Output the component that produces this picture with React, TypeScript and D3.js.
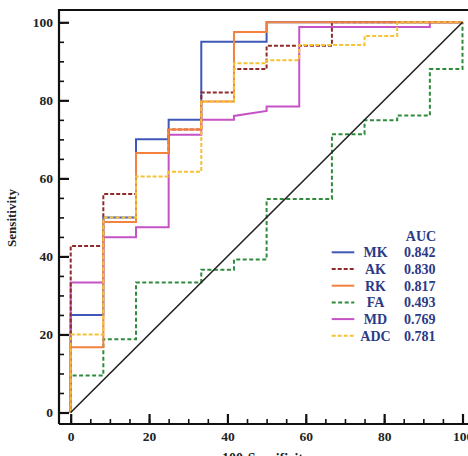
import React, { useEffect, useRef } from "react";
import * as d3 from "d3";

type Pt = [number, number];

// ROC curves: [100 - specificity, sensitivity] vertices
const mkPts: Pt[] = [[0, 0], [0, 25], [8.33, 25], [8.33, 50], [16.67, 50], [16.67, 70], [25, 70], [25, 75], [33.33, 75], [33.33, 95], [50, 95], [50, 100], [100, 100]];
const akPts: Pt[] = [[0, 0], [0, 42.7], [8.33, 42.7], [8.33, 56], [16.67, 56], [16.67, 66.5], [25, 66.5], [25, 72.5], [33.33, 72.5], [33.33, 82], [41.67, 82], [41.67, 88], [50, 88], [50, 94], [66.67, 94], [66.67, 100], [100, 100]];
const rkPts: Pt[] = [[0, 0], [0, 16.7], [8.33, 16.7], [8.33, 48.8], [16.67, 48.8], [16.67, 66.5], [25, 66.5], [25, 72.5], [33.33, 72.5], [33.33, 79.7], [41.67, 79.7], [41.67, 97.5], [50, 97.5], [50, 100], [100, 100]];
const faPts: Pt[] = [[0, 0], [0, 9.5], [8.33, 9.5], [8.33, 18.8], [16.67, 18.8], [16.67, 33.3], [33.33, 33.3], [33.33, 36.6], [41.67, 36.6], [41.67, 39.2], [50, 39.2], [50, 54.7], [66.67, 54.7], [66.67, 71.3], [75, 71.3], [75, 74.9], [83.33, 74.9], [83.33, 76.1], [91.67, 76.1], [91.67, 88], [100, 88], [100, 100]];
const mdPts: Pt[] = [[0, 0], [0, 33.3], [8.33, 33.3], [8.33, 44.9], [16.67, 44.9], [16.67, 47.5], [25, 47.5], [25, 71.2], [33.33, 71.2], [33.33, 75], [41.67, 75], [41.67, 76], [50, 77.3], [50, 78.4], [58.33, 78.4], [58.33, 98.8], [91.67, 98.8], [91.67, 100], [100, 100]];
const adcPts: Pt[] = [[0, 0], [0, 20], [8.33, 20], [8.33, 50], [16.67, 50], [16.67, 60.5], [25, 60.5], [25, 61.7], [33.33, 61.7], [33.33, 79.7], [41.67, 79.7], [41.67, 89.5], [50, 89.5], [50, 90.3], [58.33, 90.3], [58.33, 94.2], [75, 94.2], [75, 96.5], [83.33, 96.5], [83.33, 100], [100, 100]];

const names = ["MK", "AK", "RK", "FA", "MD", "ADC"];
const aucs = ["0.842", "0.830", "0.817", "0.493", "0.769", "0.781"];
const colors = ["#3f58b8", "#8e2a2a", "#f3823e", "#2f8a3c", "#c653c6", "#f5c135"];
const dashes = [null, "4,2", null, "4,2.5", null, "4,2"];
const curves = [mkPts, akPts, rkPts, faPts, mdPts, adcPts];
// drawing order, last on top
const drawOrder = [0, 4, 3, 1, 2, 5];

const W = 468;
const H = 456;
const font = "'Liberation Serif', 'Times New Roman', serif";

const App = () => {
  const svgRef = useRef<SVGSVGElement | null>(null);

  useEffect(() => {
    document.body.style.margin = "0";
    const svg = d3.select(svgRef.current);
    svg.selectAll("*").remove();

    const frame = { left: 59, top: 10, right: 470, bottom: 424 };
    const x = d3.scaleLinear().domain([0, 100]).range([70.7, 462.5]);
    const y = d3.scaleLinear().domain([0, 100]).range([412.5, 22.3]);

    svg.append("rect").attr("width", W).attr("height", H).attr("fill", "#fff");

    // minor ticks every 5
    svg
      .append("g")
      .attr("transform", `translate(${frame.left},0)`)
      .call(d3.axisLeft(y).tickValues(d3.range(0, 101, 5)).tickSizeInner(-5).tickSizeOuter(0).tickFormat(() => ""))
      .call((g) => g.select(".domain").remove())
      .selectAll("line")
      .attr("stroke", "#111")
      .attr("stroke-width", 1.6);
    svg
      .append("g")
      .attr("transform", `translate(0,${frame.bottom})`)
      .call(d3.axisBottom(x).tickValues(d3.range(0, 101, 5)).tickSizeInner(-5).tickSizeOuter(0).tickFormat(() => ""))
      .call((g) => g.select(".domain").remove())
      .selectAll("line")
      .attr("stroke", "#111")
      .attr("stroke-width", 1.6);

    // major ticks with labels
    const yAxis = svg
      .append("g")
      .attr("transform", `translate(${frame.left},0)`)
      .call(d3.axisLeft(y).tickValues([0, 20, 40, 60, 80, 100]).tickSizeInner(-10).tickSizeOuter(0).tickPadding(6));
    const xAxis = svg
      .append("g")
      .attr("transform", `translate(0,${frame.bottom})`)
      .call(d3.axisBottom(x).tickValues([0, 20, 40, 60, 80, 100]).tickSizeInner(-10).tickSizeOuter(0).tickPadding(7));
    [yAxis, xAxis].forEach((g) => {
      g.select(".domain").remove();
      g.selectAll("line").attr("stroke", "#111").attr("stroke-width", 2.2);
      g.selectAll("text")
        .attr("font-family", font)
        .attr("font-weight", "bold")
        .attr("font-size", 13.5)
        .attr("fill", "#222");
    });

    // frame lines
    svg
      .append("path")
      .attr("d", `M${frame.left},${frame.bottom}V${frame.top}H${frame.right}M${frame.left},${frame.bottom}H${frame.right}`)
      .attr("fill", "none")
      .attr("stroke", "#111")
      .attr("stroke-width", 2.2);

    const line = d3
      .line<Pt>()
      .x((d) => x(d[0]))
      .y((d) => y(d[1]));

    drawOrder.forEach((i) => {
      svg
        .append("path")
        .datum(curves[i])
        .attr("d", line)
        .attr("fill", "none")
        .attr("stroke", colors[i])
        .attr("stroke-width", 2)
        .attr("stroke-dasharray", dashes[i]);
    });

    // reference diagonal
    svg
      .append("path")
      .datum([[0, 0], [100, 100]] as Pt[])
      .attr("d", line)
      .attr("stroke", "#222")
      .attr("stroke-width", 1.6);

    // legend
    const lg = svg
      .append("g")
      .attr("font-family", font)
      .attr("font-weight", "bold")
      .attr("font-size", 14)
      .attr("fill", "#2b3a86");
    lg.append("text").attr("x", 421).attr("y", 235.7).attr("dy", "0.35em").attr("text-anchor", "middle").text("AUC");
    names.forEach((n, i) => {
      const cy = 252.3 + i * 16.7;
      lg.append("line")
        .attr("x1", 331.7)
        .attr("x2", 354.3)
        .attr("y1", cy)
        .attr("y2", cy)
        .attr("stroke", colors[i])
        .attr("stroke-width", 2)
        .attr("stroke-dasharray", dashes[i]);
      lg.append("text").attr("x", 375.5).attr("y", cy).attr("dy", "0.35em").attr("text-anchor", "middle").text(n);
      lg.append("text").attr("x", 404).attr("y", cy).attr("dy", "0.35em").text(aucs[i]);
    });

    // axis titles
    svg
      .append("text")
      .attr("transform", "translate(16,218) rotate(-90)")
      .attr("text-anchor", "middle")
      .attr("font-family", font)
      .attr("font-weight", "bold")
      .attr("font-size", 13)
      .attr("fill", "#222")
      .text("Sensitivity");
    svg
      .append("text")
      .attr("x", 266)
      .attr("y", 463)
      .attr("text-anchor", "middle")
      .attr("font-family", font)
      .attr("font-weight", "bold")
      .attr("font-size", 14)
      .attr("fill", "#222")
      .text("100-Specificity");
  }, []);

  return <svg ref={svgRef} width={W} height={H} style={{ display: "block" }} />;
};

export default App;
